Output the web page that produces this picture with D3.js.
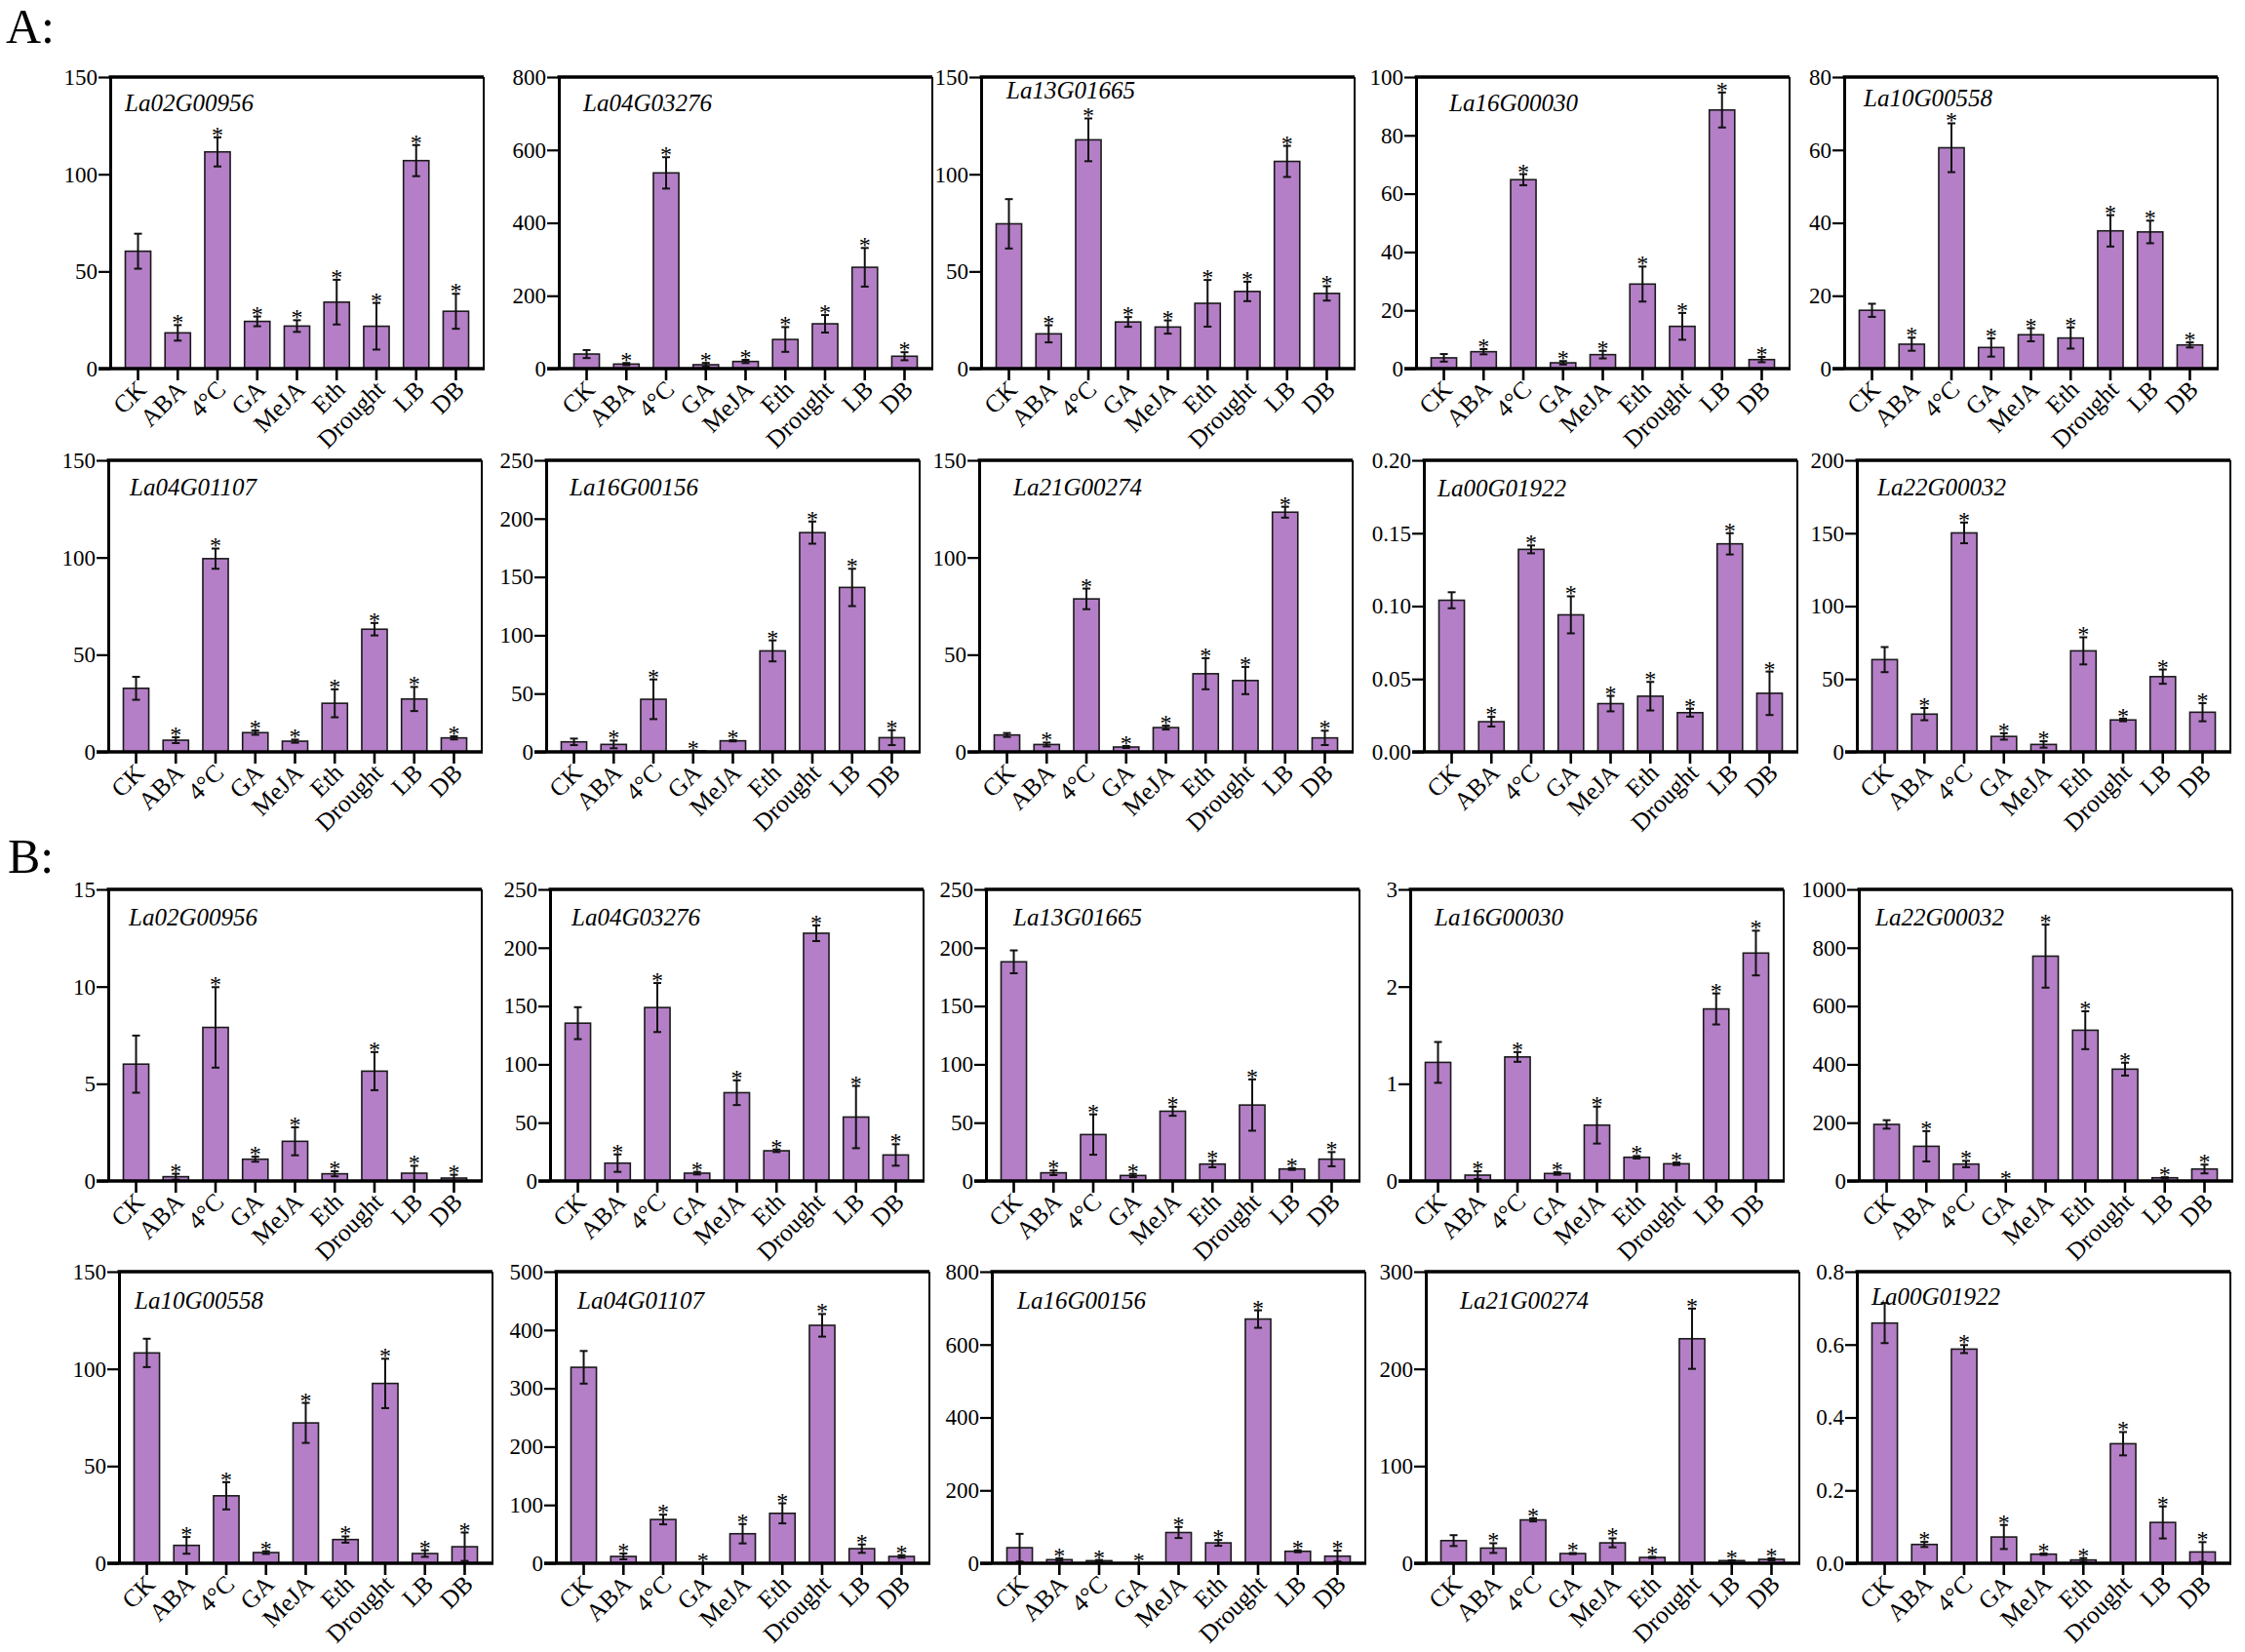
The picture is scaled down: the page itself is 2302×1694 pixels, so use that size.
<!DOCTYPE html>
<html>
<head>
<meta charset="utf-8">
<script src="https://cdn.jsdelivr.net/npm/d3@7.9.0/dist/d3.min.js"></script>
<style>
  html, body { margin: 0; background: #fff; }
  svg { display: block; font-family: "Liberation Serif", "Times New Roman", serif; }
</style>
</head>
<body>
<svg id="chart" width="2302" height="1694"></svg>
<script>
// treatments on every x axis
const categories = ['CK', 'ABA', '4°C', 'GA', 'MeJA', 'Eth', 'Drought', 'LB', 'DB'];

// panel A: gene names, y maxima, tick steps
const genesA = ['La02G00956', 'La04G03276', 'La13G01665', 'La16G00030', 'La10G00558',
                'La04G01107', 'La16G00156', 'La21G00274', 'La00G01922', 'La22G00032'];
const yMaxA = [150, 800, 150, 100, 80, 150, 250, 150, 0.2, 200];
const yStepA = [50, 200, 50, 20, 20, 50, 50, 50, 0.05, 50];

const valuesA = [
  [60.4, 18.4, 111.5, 24.3, 21.9, 34.2, 21.8, 107, 29.5],
  [40, 12.5, 537, 10.7, 19.6, 80, 123, 278, 34],
  [74.5, 17.9, 117.7, 24, 21.4, 33.6, 39.7, 106.6, 38.7],
  [3.7, 5.8, 64.8, 2.0, 4.8, 29, 14.5, 88.7, 3.1],
  [16, 6.7, 60.6, 5.8, 9.3, 8.4, 37.8, 37.5, 6.5],
  [32.7, 6.0, 99.4, 9.9, 5.5, 25, 63.1, 27.2, 7.2],
  [8.6, 6.4, 45.1, 0.8, 9.5, 86.6, 188, 141, 12.2],
  [8.7, 3.8, 78.7, 2.5, 12.5, 40.2, 36.7, 123.3, 7.2],
  [0.104, 0.0207, 0.1389, 0.094, 0.0331, 0.0382, 0.0269, 0.1427, 0.0402],
  [63.3, 25.9, 150.2, 10.6, 5.1, 69.3, 21.9, 51.6, 27.2]
];
const errorsA = [
  [9, 4, 7.5, 2.5, 3, 11.5, 12, 8, 9],
  [11, 3, 43, 5, 4.5, 34, 24, 53, 11],
  [12.7, 4.4, 11, 2.5, 3.4, 12, 5, 8, 3.7],
  [1.3, 0.9, 1.9, 0.6, 1.3, 6, 4.6, 6, 0.9],
  [1.8, 1.8, 6.7, 2.5, 1.8, 2.9, 4.3, 3.1, 0.7],
  [5.9, 1.5, 5.2, 1.1, 0.8, 7.2, 3.2, 6.2, 0.8],
  [2.8, 3.3, 17, 0.3, 0.5, 9, 9.5, 16, 6.4],
  [1, 1, 5.3, 0.5, 1, 8, 7, 2.8, 3.7],
  [0.0055, 0.0033, 0.0027, 0.0127, 0.0053, 0.0098, 0.0027, 0.0073, 0.0149],
  [8.6, 4.2, 7.1, 2.2, 2.2, 9.3, 0.9, 4.9, 6.2]
];

// panel B
const genesB = ['La02G00956', 'La04G03276', 'La13G01665', 'La16G00030', 'La22G00032',
                'La10G00558', 'La04G01107', 'La16G00156', 'La21G00274', 'La00G01922'];
const yMaxB = [15, 250, 250, 3, 1000, 150, 500, 800, 300, 0.8];
const yStepB = [5, 50, 50, 1, 200, 50, 100, 200, 100, 0.2];

const valuesB = [
  [6.01, 0.22, 7.9, 1.12, 2.04, 0.37, 5.65, 0.4, 0.15],
  [135.3, 15.3, 148.7, 6.7, 75.7, 25.9, 212.4, 54.8, 22.3],
  [187.9, 7, 39.8, 4.7, 59.8, 14.5, 65.1, 10.3, 18.7],
  [1.22, 0.06, 1.276, 0.077, 0.575, 0.244, 0.177, 1.77, 2.345],
  [194, 119, 58, 0, 771, 517, 383.5, 11, 41],
  [108.2, 9.2, 34.7, 5.5, 72.2, 12.2, 92.5, 5, 8.5],
  [336, 11.7, 75, 0, 50.6, 85.6, 408, 25, 11.7],
  [42.7, 9.8, 7, 0, 84.3, 55.9, 670, 32.8, 19.5],
  [23.3, 15.6, 44.6, 10, 21, 6, 231, 2.7, 4],
  [0.659, 0.0516, 0.5876, 0.072, 0.025, 0.009, 0.328, 0.112, 0.031]
];
const errorsB = [
  [1.47, 0.15, 2.07, 0.13, 0.72, 0.13, 0.98, 0.38, 0.17],
  [13.7, 7.5, 21, 1.1, 10.6, 1.1, 6.7, 26.7, 9.2],
  [9.8, 2, 17.3, 1.4, 3.9, 2.8, 22, 0.8, 6.1],
  [0.21, 0.04, 0.05, 0.013, 0.19, 0.013, 0.013, 0.16, 0.23],
  [14.5, 52, 11, 0, 108, 65, 22, 2, 15],
  [7.3, 4.3, 7, 0.7, 10.3, 1.6, 12.7, 1.7, 7.3],
  [28, 5, 8.3, 0, 16.6, 17.2, 19.4, 7.2, 2.2],
  [38, 3.5, 2, 0, 15, 8, 24, 2.7, 15],
  [5.6, 5, 1.6, 0.6, 4.6, 0.6, 31, 0.3, 1],
  [0.055, 0.007, 0.011, 0.033, 0.002, 0.005, 0.032, 0.044, 0.027]
];

// layout
const rowTops = [79, 472, 912, 1304];
const rowLefts = [
  [113, 573, 1006, 1452, 1891],
  [111, 560, 1004, 1460, 1904],
  [111, 564, 1011, 1446, 1906],
  [122, 570, 1017, 1462, 1904]
];
// gene-name offsets inside each panel (A then B)
const labelDxA = [15, 25, 26, 34, 20, 22, 24, 35, 14, 21];
const labelDyA = [35, 35, 22, 35, 30, 36, 36, 36, 37, 36];
const labelDxB = [21, 22, 28, 25, 17, 16, 22, 26, 35, 15];
const labelDyB = [37, 37, 37, 37, 37, 38, 38, 38, 38, 34];
const W = 383, H = 299;
const barColor = '#b47fc6';

const svg = d3.select('#chart');

svg.append('text').attr('x', 6).attr('y', 44).attr('font-size', 50).text('A:');
svg.append('text').attr('x', 8).attr('y', 895).attr('font-size', 50).text('B:');

function drawPanel(left, top, gene, yMax, yStep, values, errors, ldx, ldy) {
  const g = svg.append('g').attr('transform', `translate(${left},${top})`);

  const x = d3.scaleBand().domain(categories).range([0, W])
    .paddingInner(0.36).paddingOuter(0.38);
  const y = d3.scaleLinear().domain([0, yMax]).range([H, 0]);

  const decimals = yStep < 0.1 ? 2 : (yStep < 1 ? 1 : 0);
  const fmt = d3.format(`.${decimals}f`);
  const ticks = d3.range(0, yMax + yStep / 2, yStep);

  const data = categories.map((c, i) => ({ c, v: values[i], e: errors[i] }));

  // bars
  g.selectAll('rect.bar').data(data).join('rect')
    .attr('class', 'bar')
    .attr('x', d => x(d.c))
    .attr('y', d => y(d.v))
    .attr('width', x.bandwidth())
    .attr('height', d => H - y(d.v))
    .attr('fill', barColor)
    .attr('stroke', '#1a1a1a')
    .attr('stroke-width', 1.6);

  // error bars
  const cx = d => x(d.c) + x.bandwidth() / 2;
  const eb = g.selectAll('g.err').data(data.filter(d => d.e > 0)).join('g').attr('class', 'err')
    .attr('stroke', '#111').attr('stroke-width', 2);
  eb.append('line')
    .attr('x1', cx).attr('x2', cx)
    .attr('y1', d => y(Math.max(0, d.v - d.e)))
    .attr('y2', d => y(d.v + d.e));
  eb.append('line')
    .attr('x1', d => cx(d) - 4).attr('x2', d => cx(d) + 4)
    .attr('y1', d => y(d.v + d.e)).attr('y2', d => y(d.v + d.e));
  eb.append('line')
    .attr('x1', d => cx(d) - 4).attr('x2', d => cx(d) + 4)
    .attr('y1', d => y(Math.max(0, d.v - d.e))).attr('y2', d => y(Math.max(0, d.v - d.e)));

  // significance stars (all treatments vs CK)
  g.selectAll('text.star').data(data.filter(d => d.c !== 'CK')).join('text')
    .attr('class', 'star')
    .attr('x', cx)
    .attr('y', d => y(d.v + d.e) + 5)
    .attr('text-anchor', 'middle')
    .attr('font-size', 24)
    .text('*');

  // y axis
  const yAxis = d3.axisLeft(y).tickValues(ticks).tickFormat(fmt)
    .tickSize(12).tickSizeOuter(0).tickPadding(1);
  const ya = g.append('g').call(yAxis);
  ya.select('.domain').attr('stroke', '#000').attr('stroke-width', 3);
  ya.selectAll('.tick line').attr('stroke', '#000').attr('stroke-width', 2.2);
  ya.selectAll('.tick text').attr('font-size', 23).attr('fill', '#000')
    .attr('font-family', '"Liberation Serif", serif');

  // frame: top thick, right thin
  g.append('line').attr('x1', -1.5).attr('x2', W).attr('y1', 0).attr('y2', 0)
    .attr('stroke', '#000').attr('stroke-width', 3.5);
  g.append('line').attr('x1', W).attr('x2', W).attr('y1', 0).attr('y2', H)
    .attr('stroke', '#000').attr('stroke-width', 2);

  // baseline + x ticks
  g.append('line').attr('x1', -12).attr('x2', W + 1).attr('y1', H).attr('y2', H)
    .attr('stroke', '#000').attr('stroke-width', 3.5);
  g.selectAll('line.xt').data(categories).join('line')
    .attr('class', 'xt')
    .attr('x1', c => x(c) + x.bandwidth() / 2).attr('x2', c => x(c) + x.bandwidth() / 2)
    .attr('y1', H).attr('y2', H + 12)
    .attr('stroke', '#000').attr('stroke-width', 2.6);
  g.selectAll('text.xl').data(categories).join('text')
    .attr('class', 'xl')
    .attr('text-anchor', 'end')
    .attr('font-size', 25.5)
    .attr('transform', c => `translate(${x(c) + x.bandwidth() / 2 + 10},${H + 23}) rotate(-45)`)
    .text(c => c);

  // gene name
  g.append('text').attr('x', ldx).attr('y', ldy)
    .attr('font-size', 25).attr('font-style', 'italic')
    .text(gene);
}

genesA.forEach((gene, i) => {
  const r = Math.floor(i / 5), c = i % 5;
  drawPanel(rowLefts[r][c], rowTops[r], gene, yMaxA[i], yStepA[i], valuesA[i], errorsA[i],
            labelDxA[i], labelDyA[i]);
});
genesB.forEach((gene, i) => {
  const r = 2 + Math.floor(i / 5), c = i % 5;
  drawPanel(rowLefts[r][c], rowTops[r], gene, yMaxB[i], yStepB[i], valuesB[i], errorsB[i],
            labelDxB[i], labelDyB[i]);
});
</script>
</body>
</html>
